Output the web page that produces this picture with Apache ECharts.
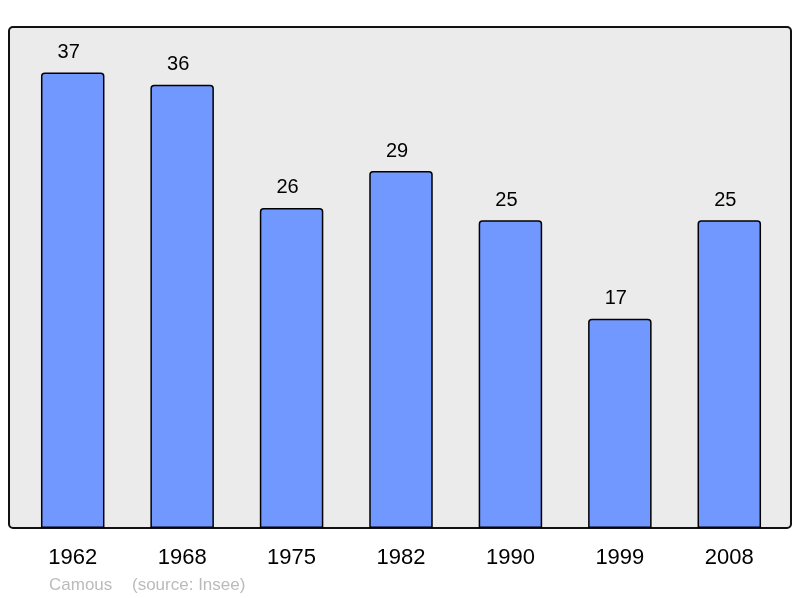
<!DOCTYPE html>
<html><head><meta charset="utf-8">
<script src="https://cdn.jsdelivr.net/npm/echarts@6/dist/echarts.min.js"></script>
<style>html,body{margin:0;padding:0;background:#fff}#c{width:800px;height:598px}</style>
</head><body><div id="c"></div>
<script>
const categories = ['1962','1968','1975','1982','1990','1999','2008'];
const values = [37, 36, 26, 29, 25, 17, 25];
const commune = 'Camous';
const source = '(source: Insee)';

const chart = echarts.init(document.getElementById('c'), null, {renderer:'canvas'});
chart.setOption({
  animation: false,
  backgroundColor: '#ffffff',
  textStyle: {fontFamily: 'Liberation Sans, Arial, sans-serif'},
  grid: {left: 18, right: 16, top: 27, bottom: 70},
  graphic: [
    {type:'rect', z:-10, shape:{x:9, y:27, width:782, height:501, r:4},
     style:{fill:'#ebebeb', stroke:'#111', lineWidth:2}},
    {type:'text', z:10, left:49, top:577, style:{text:commune, fill:'#bbbbbb', font:'17px "Liberation Sans", Arial, sans-serif'}},
    {type:'text', z:10, left:132, top:577, style:{text:source, fill:'#bbbbbb', font:'17px "Liberation Sans", Arial, sans-serif'}}
  ],
  xAxis: {
    type: 'category', data: categories,
    axisLine:{show:false}, axisTick:{show:false}, splitLine:{show:false},
    axisLabel:{color:'#000', fontSize:22, margin:19, fontFamily:'Liberation Sans, Arial, sans-serif'}
  },
  yAxis: {
    type: 'value', min: 0, max: 40.7,
    show: false, splitLine:{show:false}
  },
  series: [{
    type: 'bar', data: values, barWidth: 63.5,
    itemStyle:{color:'#7098ff', borderColor:'#000', borderWidth:1.5, borderRadius:[3,3,0,0]},
    label:{show:true, position:'top', distance:10, offset:[-4,0], color:'#000', fontSize:20, fontFamily:'Liberation Sans, Arial, sans-serif'}
  }]
});
</script></body></html>
